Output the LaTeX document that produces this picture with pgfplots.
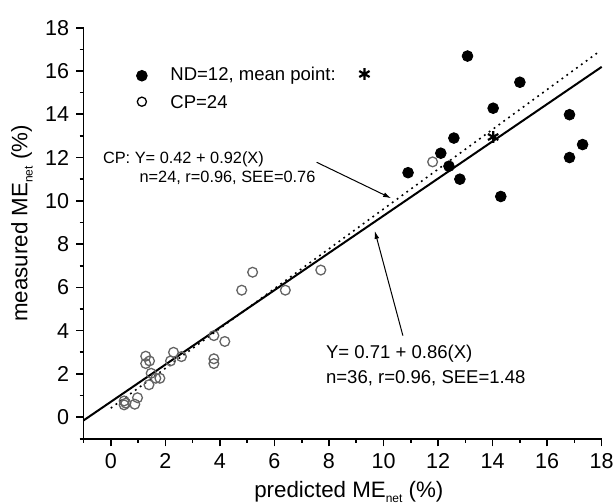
\documentclass[border=0pt]{standalone}
\usepackage{pgfplots}
\pgfplotsset{compat=1.18}
\usepackage{fontspec}
\setmainfont{Liberation Sans}
\usetikzlibrary{arrows.meta}
\definecolor{opengray}{RGB}{100,100,100}
\newcommand{\sub}[1]{\raisebox{-0.45ex}{\fontsize{6}{7}\selectfont #1}}
\begin{document}
\begin{tikzpicture}
\begin{axis}[
  scale only axis, width=259bp, height=205.5bp,
  xmin=-1, xmax=18, ymin=-1, ymax=18,
  axis x line=bottom, axis y line=left,
  axis line style={-, line width=0.9bp},
  xtick={0,2,...,18}, ytick={0,2,...,18},
  minor xtick={-1,1,...,17}, minor ytick={-1,1,...,17},
  tick align=outside, major tick length=3.75bp, minor tick length=2bp,
  every tick/.style={line width=0.8bp, black},
  ticklabel style={font=\fontsize{10.8}{12}\selectfont},
  /pgf/number format/assume math mode=true,
  xlabel={predicted ME\sub{net} (\%)},
  ylabel={measured ME\sub{net} (\%)},
  label style={font=\fontsize{11.2}{13}\selectfont},
  xlabel style={at={(axis description cs:0.512,-0.129)}, anchor=center},
  ylabel style={at={(axis description cs:-0.1187,0.524)}, anchor=center},
  clip=false,
]
% regression lines
\addplot[black, line width=1bp] coordinates {(-1,-0.15) (18,16.19)};
\addplot[black, line width=0.8bp, dash pattern=on 0.9bp off 2.1bp] coordinates {(0,0.42) (17.9,16.89)};
% CP open circles
\addplot[only marks, mark=o, mark size=2.45pt, mark options={draw=opengray, line width=0.65bp}] coordinates {
(11.8,11.8) (7.7,6.8) (5.2,6.7) (4.8,5.87) (6.4,5.87) (3.78,3.77) (4.18,3.5)
(3.78,2.7) (3.78,2.48) (2.3,3.0) (2.19,2.6) (2.59,2.8) (1.28,2.82) (1.28,2.48)
(1.42,2.6) (1.48,2.03) (1.4,1.5) (1.65,1.8) (1.8,1.8) (0.98,0.9) (0.49,0.75)
(0.49,0.57) (0.88,0.6) (0.55,0.65)};
% ND filled circles
\addplot[only marks, mark=*, mark size=2.7pt, mark options={fill=black, draw=black}] coordinates {
(10.9,11.3) (13.08,16.69) (15.0,15.48) (14.02,14.28) (16.82,13.98) (12.58,12.9)
(12.1,12.2) (12.4,11.6) (12.8,11.0) (17.3,12.6) (16.82,12.0) (14.3,10.2)};
% mean point
\addplot[only marks, mark=asterisk, mark size=3pt, mark options={line width=1.1bp, black}] coordinates {(14.02,12.95)};
% legend marks
\addplot[only marks, mark=*, mark size=2.7pt, mark options={fill=black, draw=black}] coordinates {(1.14,15.78)};
\addplot[only marks, mark=o, mark size=2.3pt, mark options={draw=black, line width=0.65bp}] coordinates {(1.14,14.58)};
\addplot[only marks, mark=asterisk, mark size=3pt, mark options={line width=1.1bp, black}] coordinates {(9.3,15.86)};
\node[anchor=west, inner sep=0, font=\fontsize{9.3}{11}\selectfont] at (axis cs:2.17,15.78) {ND=12, mean point:};
\node[anchor=west, inner sep=0, font=\fontsize{9.3}{11}\selectfont] at (axis cs:2.17,14.58) {CP=24};
% annotations
\node[anchor=west, inner sep=0, font=\fontsize{8.2}{10}\selectfont] at (axis cs:-0.3,11.93) {CP: Y= 0.42 + 0.92(X)};
\node[anchor=west, inner sep=0, font=\fontsize{8.2}{10}\selectfont] at (axis cs:1.04,11.04) {n=24, r=0.96, SEE=0.76};
\node[anchor=west, inner sep=0, font=\fontsize{9.3}{11}\selectfont] at (axis cs:7.88,2.94) {Y= 0.71 + 0.86(X)};
\node[anchor=west, inner sep=0, font=\fontsize{9.3}{11}\selectfont] at (axis cs:7.88,1.81) {n=36, r=0.96, SEE=1.48};
\draw[line width=0.5bp, -{Latex[length=4bp,width=2.4bp]}] (axis cs:7.55,11.78) -- (axis cs:10.28,10.12);
\draw[line width=0.5bp, -{Latex[length=4bp,width=2.4bp]}] (axis cs:10.71,3.77) -- (axis cs:9.68,8.61);
\end{axis}
\pgfresetboundingbox
\path[use as bounding box] (-41.75bp,-31.75bp) rectangle (265.15bp,219.35bp);
\end{tikzpicture}
\end{document}
